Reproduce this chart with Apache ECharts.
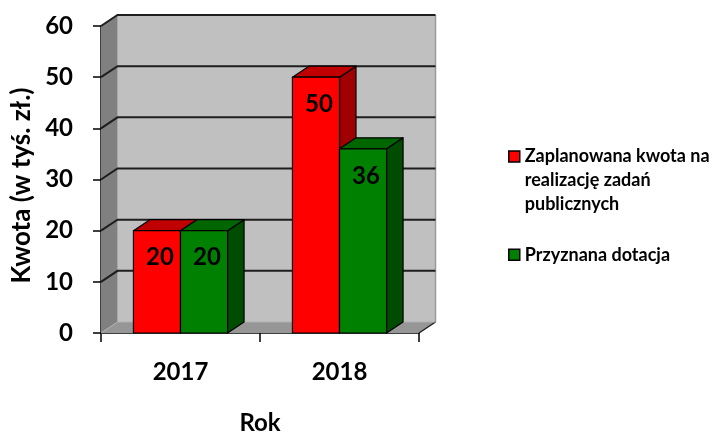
<!DOCTYPE html>
<html>
<head>
<meta charset="utf-8">
<script src="https://cdn.jsdelivr.net/npm/echarts@6/dist/echarts.min.js"></script>
<style>
  html, body { margin: 0; padding: 0; background: #fff; }
  #chart { width: 715px; height: 432px; }
</style>
</head>
<body>
<div id="chart"></div>
<script>
// dane
const years = ['2017', '2018'];
const planned = [20, 50];
const granted = [20, 36];
const yTicks = [0, 10, 20, 30, 40, 50, 60];
const names = ['Zaplanowana kwota na\nrealizację zadań\npublicznych', 'Przyznana dotacja'];

// przesuniecie "glebi" 3D
const DX = 16.5, DY = -11;
const FONT = 'Lato';

const chart = echarts.init(document.getElementById('chart'));

// sciany i podloga wykresu
function renderWalls(params, api) {
  const cs = params.coordSys;
  const x0 = cs.x, x1 = cs.x + cs.width;
  const yb = api.coord([0, yTicks[0]])[1];
  const yt = api.coord([0, yTicks[yTicks.length - 1]])[1];
  const children = [
    { type: 'polygon', shape: { points: [[x0 + DX, yt + DY], [x1 + DX, yt + DY], [x1 + DX, yb + DY], [x0 + DX, yb + DY]] },
      style: { fill: '#c0c0c0' } },
    { type: 'polygon', shape: { points: [[x0, yt], [x0 + DX, yt + DY], [x0 + DX, yb + DY], [x0, yb]] },
      style: { fill: '#808080' } },
    { type: 'polygon', shape: { points: [[x0, yb], [x1, yb], [x1 + DX, yb + DY], [x0 + DX, yb + DY]] },
      style: { fill: '#969696' } },
    { type: 'line', shape: { x1: x1 + DX, y1: yt + DY, x2: x1 + DX, y2: yb + DY },
      style: { stroke: '#9a9a9a', lineWidth: 1.5 } },
    { type: 'line', shape: { x1: x0 + DX, y1: yt + DY, x2: x0 + DX, y2: yb + DY },
      style: { stroke: '#a8a8a8', lineWidth: 1 } },
    { type: 'line', shape: { x1: x1, y1: yb, x2: x1 + DX, y2: yb + DY },
      style: { stroke: '#222', lineWidth: 1.5 } }
  ];
  yTicks.forEach(v => {
    const y = api.coord([0, v])[1];
    children.push({
      type: 'polyline',
      shape: { points: [[x0, y], [x0 + DX, y + DY], [x1 + DX, y + DY]] },
      style: { stroke: v === 0 ? '#b0b0b0' : '#1e1e1e', lineWidth: v === 0 ? 1 : 2, fill: null }
    });
  });
  return { type: 'group', children: children };
}

// slupek 3D
function barRender(side, front, top, right) {
  return function (params, api) {
    const cat = api.value(0), val = api.value(1);
    const c = api.coord([cat, val]);
    const y0 = api.coord([cat, 0])[1];
    const bw = api.size([1, 0])[0] * 0.296;
    const xl = side === 0 ? c[0] - bw : c[0];
    const xr = xl + bw;
    const yt = c[1];
    const stroke = { stroke: '#000', lineWidth: 1.2, lineJoin: 'round' };
    return {
      type: 'group',
      children: [
        { type: 'polygon', shape: { points: [[xr, yt], [xr + DX, yt + DY], [xr + DX, y0 + DY], [xr, y0]] },
          style: Object.assign({ fill: right }, stroke) },
        { type: 'polygon', shape: { points: [[xl, yt], [xr, yt], [xr + DX, yt + DY], [xl + DX, yt + DY]] },
          style: Object.assign({ fill: top }, stroke) },
        { type: 'rect', shape: { x: xl, y: yt, width: bw, height: y0 - yt },
          style: Object.assign({ fill: front }, stroke) },
        { type: 'text', x: xl + bw / 2 + 3, y: yt + 27, z2: 10,
          style: { text: String(val), font: 'bold 24px ' + FONT, fill: '#000', align: 'center', verticalAlign: 'middle' } }
      ]
    };
  };
}

// ikonki legendy: kwadrat 11x11 w polu 11x66 (wyrownanie do pierwszej linii)
const iconTop = 'path://M0,3.5H11V14.5H0Z M0,0L0,0 M0,66L0,66';
const iconMid = 'path://M0,27.5H11V38.5H0Z M0,0L0,0 M0,66L0,66';

const option = {
  animation: false,
  backgroundColor: '#fff',
  grid: { left: 101, top: 26, width: 318, height: 307, outerBoundsMode: 'none' },
  legend: {
    orient: 'vertical',
    left: 508,
    top: 144.5,
    padding: 0,
    itemGap: 4.5,
    itemWidth: 11,
    itemHeight: 66,
    selectedMode: false,
    itemStyle: { borderColor: '#000', borderWidth: 1.5 },
    textStyle: { fontFamily: FONT, fontWeight: 'bold', fontSize: 18, color: '#000', lineHeight: 24 },
    data: [
      { name: names[0], icon: iconTop },
      { name: names[1], icon: iconMid }
    ]
  },
  xAxis: {
    type: 'category',
    data: years,
    name: 'Rok',
    nameLocation: 'middle',
    nameGap: 78,
    nameTextStyle: { fontFamily: FONT, fontWeight: 'bold', fontSize: 24, color: '#000' },
    axisLine: { lineStyle: { color: '#000', width: 1.5 } },
    axisTick: { show: true, length: 9, lineStyle: { color: '#000', width: 1.5 } },
    axisLabel: { margin: 27, fontFamily: FONT, fontWeight: 'bold', fontSize: 24, color: '#000' },
    splitLine: { show: false }
  },
  yAxis: {
    type: 'value',
    min: 0,
    max: 60,
    interval: 10,
    name: 'Kwota (w tyś. zł.)',
    nameLocation: 'middle',
    nameGap: 66,
    nameTextStyle: { fontFamily: FONT, fontWeight: 'bold', fontSize: 26, color: '#000', padding: [0, 12, 0, 0] },
    axisLine: { show: true, lineStyle: { color: '#000', width: 1.5 } },
    axisTick: { show: true, length: 8, lineStyle: { color: '#000', width: 1.5 } },
    axisLabel: { margin: 28, fontFamily: FONT, fontWeight: 'bold', fontSize: 24, color: '#000' },
    splitLine: { show: false }
  },
  series: [
    {
      type: 'custom',
      silent: true,
      renderItem: renderWalls,
      data: [[0, 0]],
      encode: { x: 0, y: 1 },
      z: 1
    },
    {
      name: names[0],
      type: 'custom',
      itemStyle: { color: '#ff0000' },
      renderItem: barRender(0, '#ff0000', '#c00000', '#a00000'),
      data: planned.map((v, i) => [i, v]),
      encode: { x: 0, y: 1 },
      z: 2
    },
    {
      name: names[1],
      type: 'custom',
      itemStyle: { color: '#008000' },
      renderItem: barRender(1, '#008000', '#006600', '#004c00'),
      data: granted.map((v, i) => [i, v]),
      encode: { x: 0, y: 1 },
      z: 2
    }
  ]
};

chart.setOption(option);
</script>
</body>
</html>
